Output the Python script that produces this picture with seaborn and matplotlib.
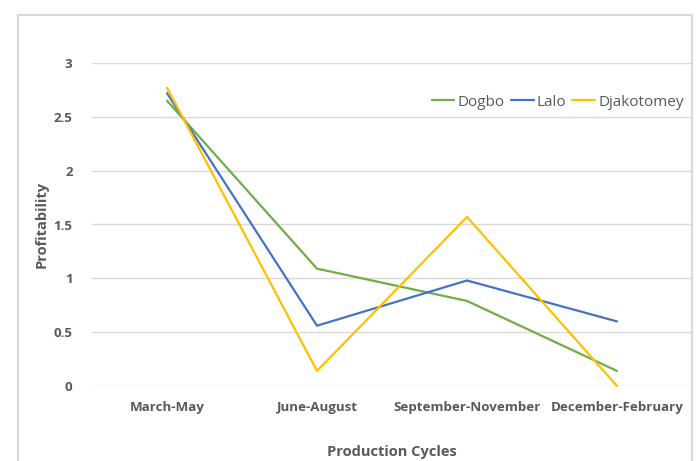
import pandas as pd
import seaborn as sns
import matplotlib.pyplot as plt
from matplotlib.patches import Rectangle

# data
cycles = ['March-May', 'June-August', 'September-November', 'December-February']
dogbo = [2.65, 1.09, 0.79, 0.14]
lalo = [2.72, 0.56, 0.98, 0.60]
djakotomey = [2.77, 0.14, 1.57, 0.00]
series_names = ['Dogbo', 'Lalo', 'Djakotomey']
colors = ['#70AD47', '#4472C4', '#FFC000']

rows = []
for name, vals in zip(series_names, [dogbo, lalo, djakotomey]):
    for i, v in enumerate(vals):
        rows.append({'Cycle': i, 'Profitability': v, 'Site': name})
df = pd.DataFrame(rows)

sns.set_style('white')
plt.rcParams['font.family'] = ['Open Sans', 'DejaVu Sans']

fig = plt.figure(figsize=(7, 4.61), dpi=100)
ax = fig.add_axes([92 / 700, 1 - 386 / 461, 600 / 700, 323 / 461])

sns.lineplot(data=df, x='Cycle', y='Profitability', hue='Site',
             palette=dict(zip(series_names, colors)), linewidth=1.6,
             ax=ax, legend=False)

ax.set_xlim(-0.5, 3.5)
ax.set_ylim(0, 3)
ax.set_xticks(range(len(cycles)))
ax.set_xticklabels(cycles)
ax.set_yticks([0, 0.5, 1, 1.5, 2, 2.5, 3])
ax.set_yticklabels(['0', '0.5', '1', '1.5', '2', '2.5', '3'])
ax.tick_params(length=0, labelsize=9.6, labelcolor='#595959')
ax.tick_params(axis='x', pad=11)
ax.tick_params(axis='y', pad=14)
for lab in ax.get_xticklabels() + ax.get_yticklabels():
    lab.set_fontweight('bold')
ax.yaxis.grid(True, color='#d9d9d9', linewidth=1)
ax.set_axisbelow(True)
for s in ax.spines.values():
    s.set_visible(False)
for ln in ax.get_lines():
    ln.set_clip_on(False)

ax.set_xlabel('Production Cycles', fontsize=10.5, fontweight='bold',
              color='#595959')
ax.xaxis.set_label_coords(0.5, (386 - 452) / 323)
ax.xaxis.label.set_va('center')
ax.set_ylabel('Profitability', fontsize=10.5, fontweight='bold',
              color='#595959')
ax.yaxis.set_label_coords((42 - 92) / 600, 0.5)
ax.yaxis.label.set_va('center')

handles = [plt.Line2D([], [], color=c, linewidth=1.6) for c in colors]
fig.legend(handles, series_names, loc='center right', ncol=3, frameon=False,
           bbox_to_anchor=(690 / 700, 1 - 102 / 461), fontsize=11,
           labelcolor='#595959', handlelength=1.5, handletextpad=0.2,
           columnspacing=0.4, borderaxespad=0)

# chart area border
fig.patches.append(Rectangle((18 / 700, -0.1), 674 / 700, 1.1 - 15 / 461,
                             transform=fig.transFigure, fill=False,
                             edgecolor='#d9d9d9', linewidth=1.5))

fig.savefig('out.png', dpi=100, facecolor='white')
